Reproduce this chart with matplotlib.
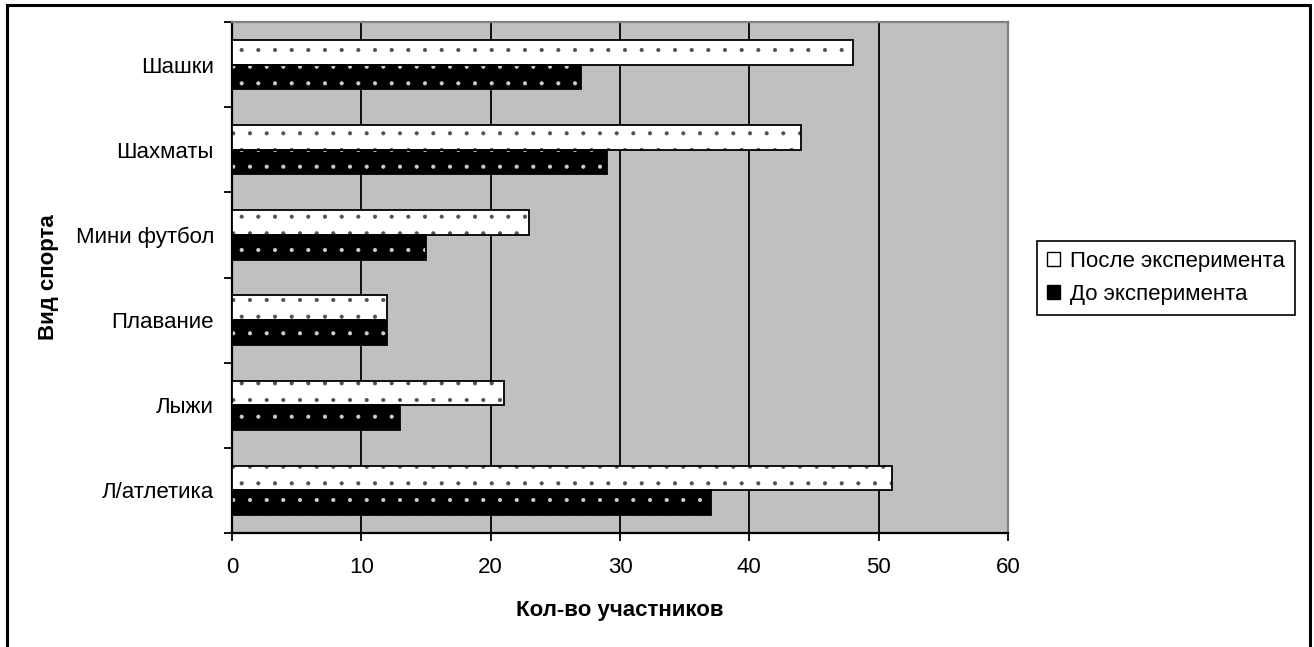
import numpy as np
import matplotlib
matplotlib.use("Agg")
import matplotlib.pyplot as plt
from matplotlib.patches import Rectangle, Patch

plt.rcParams['font.family'] = ['Liberation Sans', 'DejaVu Sans']
plt.rcParams['hatch.linewidth'] = 0.5

sports = ["Шашки", "Шахматы", "Мини футбол", "Плавание", "Лыжи", "Л/атлетика"]
after = [48, 44, 23, 12, 21, 51]
before = [27, 29, 15, 12, 13, 37]
x_ticks = [0, 10, 20, 30, 40, 50, 60]

fs = 16
fig = plt.figure(figsize=(13.14, 6.47), dpi=100)
ax = fig.add_axes([232 / 1314, 1 - 533 / 647, 776 / 1314, 511 / 647])
ax.set_facecolor('#c0c0c0')

y = np.arange(len(sports))
h = 0.29

# white bars with grey dots
ax.barh(y - h / 2, after, height=h, color='white', edgecolor='#505050',
        hatch='.', linewidth=0, zorder=3)
# black bars with light dots
ax.barh(y + h / 2, before, height=h, color='black', edgecolor='#d0d0d0',
        hatch='.', linewidth=0, zorder=3)
# outlines on top
for pos, vals in [(y - h / 2, after), (y + h / 2, before)]:
    ax.barh(pos, vals, height=h, fill=False, edgecolor='black',
            linewidth=1.3, zorder=4)

ax.set_xlim(0, 60)
ax.set_ylim(len(sports) - 0.5, -0.5)
ax.set_xticks(x_ticks)
ax.set_xticklabels([str(v) for v in x_ticks], fontsize=fs)
ax.set_yticks(y)
ax.set_yticklabels(sports, fontsize=fs)
ax.set_yticks(np.arange(len(sports) + 1) - 0.5, minor=True)
ax.tick_params(axis='y', which='major', length=0, pad=13)
ax.tick_params(axis='y', which='minor', length=6, width=1.3, direction='out')
ax.tick_params(axis='x', length=6, width=1.3, direction='out', pad=11)

ax.grid(axis='x', color='black', linewidth=1.3, zorder=1)
ax.set_axisbelow(True)

for side in ['left', 'bottom']:
    ax.spines[side].set_linewidth(1.6)
    ax.spines[side].set_color('black')
for side in ['top', 'right']:
    ax.spines[side].set_linewidth(1.6)
    ax.spines[side].set_color('#808080')

ax.set_xlabel("Кол-во участников", fontsize=fs, fontweight='bold', labelpad=16)
ax.set_ylabel("Вид спорта", fontsize=fs, fontweight='bold', labelpad=12)

handles = [
    Patch(facecolor='white', edgecolor='black', linewidth=1.0),
    Patch(facecolor='black', edgecolor='black', linewidth=1.0),
]
leg = fig.legend(handles, ["После эксперимента", "До эксперимента"],
                 loc='upper left', bbox_to_anchor=(1037 / 1314, 1 - 241 / 647),
                 bbox_transform=fig.transFigure, borderaxespad=0,
                 fontsize=fs, frameon=True, fancybox=False, edgecolor='black',
                 handlelength=0.6, handleheight=0.6, handletextpad=0.45,
                 borderpad=0.45, labelspacing=0.55, framealpha=1)
leg.get_frame().set_linewidth(1.2)

# outer chart border
fig.add_artist(Rectangle((7 / 1314, -0.1), 1303 / 1314, 1.1 - 5 / 647,
                         transform=fig.transFigure, fill=False,
                         edgecolor='black', linewidth=2.2))

fig.savefig("out.png", dpi=100)
